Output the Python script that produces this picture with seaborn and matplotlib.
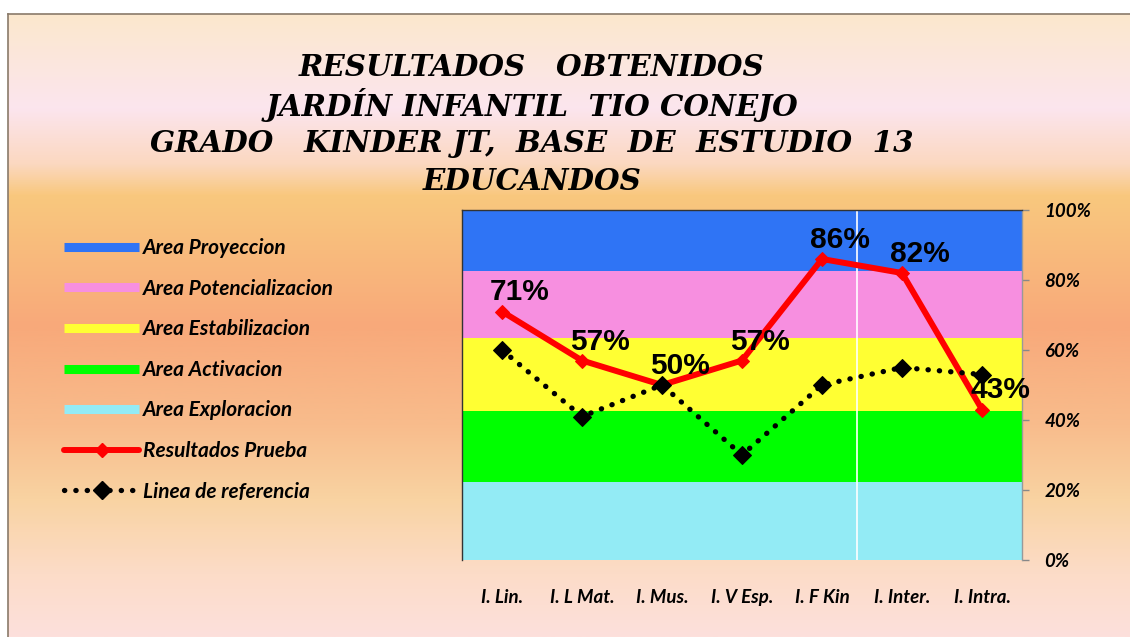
import matplotlib
matplotlib.use("Agg")
import matplotlib.pyplot as plt
from matplotlib.colors import LinearSegmentedColormap
from matplotlib.lines import Line2D
import numpy as np
import seaborn as sns

categories = ['I. Lin.', 'I. L Mat.', 'I. Mus.', 'I. V Esp.', 'I. F Kin', 'I. Inter.', 'I. Intra.']
resultados = [71, 57, 50, 57, 86, 82, 43]
referencia = [60, 41, 50, 30, 50, 55, 53]

area_names = ['Area Proyeccion', 'Area Potencializacion', 'Area Estabilizacion',
              'Area Activacion', 'Area Exploracion']
area_colors = ['#2f74f5', '#f78fe0', '#ffff33', '#00ff00', '#93ebf5']
area_bounds = [100, 82.6, 63.5, 42.6, 22.4, 0]
y_ticks = [0, 20, 40, 60, 80, 100]

title_lines = ['RESULTADOS   OBTENIDOS', 'JARDÍN INFANTIL  TIO CONEJO',
               'GRADO   KINDER JT,  BASE  DE  ESTUDIO  13', 'EDUCANDOS']

sns.set_theme(style='white')
plt.rcParams['font.family'] = ['Lato', 'DejaVu Sans']
plt.rcParams['text.color'] = 'black'
plt.rcParams['xtick.color'] = 'black'
plt.rcParams['ytick.color'] = 'black'

W, H = 1130, 637
fig = plt.figure(figsize=(W / 100, H / 100), dpi=100)
fig.patch.set_facecolor('white')

# gradient background of the chart area
bg = fig.add_axes([8 / W, 0, 1 - 8 / W, (H - 14) / H], zorder=-5)
cmap = LinearSegmentedColormap.from_list('bg', [
    (0.0, '#fbe8cd'), (0.15, '#fce5ee'), (0.24, '#fbd8c0'), (0.29, '#f9c87e'),
    (0.50, '#f8a97a'), (0.66, '#f8bc8c'), (0.78, '#f9d3a2'), (0.90, '#fcdcc8'),
    (1.0, '#fde0dc')])
bg.imshow(np.linspace(0, 1, 256).reshape(-1, 1), aspect='auto', cmap=cmap,
          extent=[0, 1, 0, 1])
bg.set_xticks([])
bg.set_yticks([])
for s in ['right', 'bottom']:
    bg.spines[s].set_visible(False)
for s in ['left', 'top']:
    bg.spines[s].set_color('#8a7a6a')
    bg.spines[s].set_linewidth(1.2)

ax = fig.add_axes([462 / W, (H - 560) / H, 560 / W, 350 / H])
ax.set_facecolor('none')

for name, col, hi, lo in zip(area_names, area_colors, area_bounds[:-1], area_bounds[1:]):
    ax.axhspan(lo, hi, color=col, zorder=0, lw=0)

ax.axvline(4.44, color='white', lw=1.2, zorder=1)

x = np.arange(len(categories))
sns.lineplot(x=x, y=resultados, ax=ax, color='#ff0000', lw=4.3, marker='D',
             markersize=7, markeredgecolor='#ff0000', zorder=3)
sns.lineplot(x=x, y=referencia, ax=ax, color='black', lw=3.8, marker='D',
             markersize=9, linestyle=(0, (0.05, 2.1)),
             markeredgecolor='black', zorder=4)
for line in ax.lines[1:]:
    line.set_dash_capstyle('round')

for xi, v in zip(x, resultados):
    ax.annotate(f'{v}%', (xi, v), xytext=(18, 5), textcoords='offset pixels',
                ha='center', va='bottom', fontsize=21.5, fontweight='bold',
                family=['Liberation Sans', 'DejaVu Sans'], color='black', zorder=5)

ax.set_xlim(-0.5, len(categories) - 0.5)
ax.set_ylim(0, 100)
ax.set_xticks(x)
ax.set_xticklabels(categories, fontsize=13.5, fontweight='bold', style='italic')
ax.tick_params(axis='x', length=0, pad=21)
ax.yaxis.tick_right()
ax.set_yticks(y_ticks)
ax.set_yticklabels([f'{t}%' for t in y_ticks], fontsize=13.5, fontweight='bold', style='italic')
ax.tick_params(axis='y', right=True, length=5, width=1, color='#888888', pad=11)
for lab in ax.get_yticklabels():
    lab.set_horizontalalignment('left')
ax.spines['bottom'].set_visible(False)
ax.spines['right'].set_color('#999999')
ax.spines['left'].set_color('#333333')
ax.spines['top'].set_color('#333333')
for s in ['left', 'top', 'right']:
    ax.spines[s].set_linewidth(1)

title_y = [68, 105, 143, 181]
for txt, ty in zip(title_lines, title_y):
    fig.text(532 / W, 1 - ty / H, txt, ha='center', va='center', fontsize=21.2,
             fontweight='bold', style='italic', family=['DejaVu Serif'])

handles = [Line2D([], [], color=c, lw=6.5, solid_capstyle='butt') for c in area_colors]
handles.append(Line2D([], [], color='#ff0000', lw=4.3, marker='D', markersize=7,
                      solid_capstyle='round'))
handles.append(Line2D([], [], color='black', lw=3.8, linestyle=(0, (0.05, 2.1)),
                      dash_capstyle='round', marker='D', markersize=9))
labels = area_names + ['Resultados Prueba', 'Linea de referencia']
leg = fig.legend(handles, labels, loc='upper left', bbox_to_anchor=(64 / W, 1 - 238 / H),
                 frameon=False, prop={'size': 15, 'weight': 'bold', 'style': 'italic'},
                 handlelength=3.6, handletextpad=0.2, labelspacing=0.99, borderpad=0,
                 borderaxespad=0)

fig.savefig('out.png', dpi=100)
